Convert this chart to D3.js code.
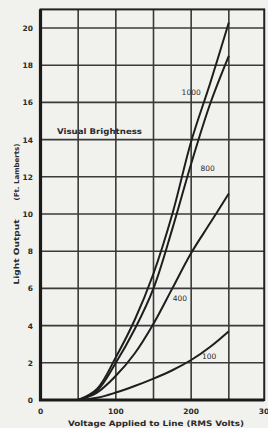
<html>
<head>
<script src="https://d3js.org/d3.v7.min.js"></script>
<style>
    body { margin: 0; background: #f1f1ee; }
    svg { display: block; }
    text { font-family: "DejaVu Sans", sans-serif; fill: #2b2b2b; }
</style>
</head>
<body>
<svg id="chart" width="268" height="428"></svg>
<script>
// voltage (RMS volts) sample points
const volts = [50, 75, 100, 125, 150, 175, 200, 225, 250];
// light output (ft. lamberts) per lamp series
const s1000 = [0, 0.6, 2.3, 4.3, 6.8, 10.0, 13.9, 17.0, 20.3];
const s800  = [0, 0.5, 2.0, 3.8, 6.0, 9.2, 12.7, 15.9, 18.5];
const s400  = [0, 0.4, 1.3, 2.5, 4.1, 6.0, 7.9, 9.5, 11.1];
const s100  = [0, 0.12, 0.4, 0.75, 1.15, 1.6, 2.15, 2.85, 3.7];
const seriesNames = ["1000", "800", "400", "100"];
const yTicks = [0, 2, 4, 6, 8, 10, 12, 14, 16, 18, 20];
const xTicks = [0, 100, 200, 300];
const xGrid = [50, 100, 150, 200, 250];

const series = [s1000, s800, s400, s100];

const svg = d3.select("#chart");
const x = d3.scaleLinear().domain([0, 300]).range([40.5, 266.5]);
const y = d3.scaleLinear().domain([0, 20]).range([400, 28]);
const xEnd = 297, yEnd = 21;

// grid
const g = svg.append("g");
g.selectAll("line.h").data(yTicks.filter(d => d > 0)).join("line")
    .attr("x1", x(0)).attr("x2", x(xEnd))
    .attr("y1", d => y(d)).attr("y2", d => y(d))
    .attr("stroke", "#3a3a3a").attr("stroke-width", 1.6);
g.selectAll("line.v").data(xGrid).join("line")
    .attr("y1", y(0)).attr("y2", y(yEnd))
    .attr("x1", d => x(d)).attr("x2", d => x(d))
    .attr("stroke", "#3a3a3a").attr("stroke-width", 1.6);

// frame
g.append("rect")
    .attr("x", x(0)).attr("y", y(yEnd))
    .attr("width", x(xEnd) - x(0)).attr("height", y(0) - y(yEnd))
    .attr("fill", "none").attr("stroke", "#222").attr("stroke-width", 2);
g.append("path")
    .attr("d", `M${x(0)},${y(yEnd)}V${y(0)}H${x(xEnd)}`)
    .attr("fill", "none").attr("stroke", "#1a1a1a").attr("stroke-width", 3.2);

// tick labels
svg.append("g").selectAll("text").data(yTicks).join("text")
    .attr("x", 33).attr("y", d => y(d) + 3)
    .attr("text-anchor", "end")
    .attr("font-size", 7.5).attr("font-weight", "bold")
    .text(d => d);
svg.append("g").selectAll("text").data(xTicks).join("text")
    .attr("x", d => x(d)).attr("y", 414)
    .attr("text-anchor", "middle")
    .attr("font-size", 7.5).attr("font-weight", "bold")
    .text(d => d);

// axis titles
svg.append("text")
    .attr("x", 156).attr("y", 426)
    .attr("text-anchor", "middle")
    .attr("font-size", 7.6).attr("font-weight", "bold")
    .attr("textLength", 176).attr("lengthAdjust", "spacingAndGlyphs")
    .text("Voltage Applied to Line (RMS Volts)");
svg.append("text")
    .attr("transform", "translate(19,252) rotate(-90)")
    .attr("text-anchor", "middle")
    .attr("font-size", 7.3).attr("font-weight", "bold")
    .attr("textLength", 65).attr("lengthAdjust", "spacingAndGlyphs")
    .text("Light Output");
svg.append("text")
    .attr("transform", "translate(19,172) rotate(-90)")
    .attr("text-anchor", "middle")
    .attr("font-size", 6.8).attr("font-weight", "bold")
    .attr("textLength", 57).attr("lengthAdjust", "spacingAndGlyphs")
    .text("(Ft. Lamberts)");

svg.append("text")
    .attr("x", 57).attr("y", 134)
    .attr("font-size", 7.8).attr("font-weight", "bold")
    .attr("textLength", 85).attr("lengthAdjust", "spacingAndGlyphs")
    .text("Visual Brightness");

// curves
const line = d3.line()
    .x((d, i) => x(volts[i]))
    .y(d => y(d))
    .curve(d3.curveCatmullRom.alpha(0.5));
svg.append("g").selectAll("path").data(series).join("path")
    .attr("d", line)
    .attr("fill", "none").attr("stroke", "#1e1e1e").attr("stroke-width", 2);

// curve labels (voltage, value position)
const labelV = [200, 222, 185, 224];
const labelY = [16.4, 12.3, 5.3, 2.2];
svg.append("g").selectAll("text").data(seriesNames).join("text")
    .attr("x", (d, i) => x(labelV[i]))
    .attr("y", (d, i) => y(labelY[i]))
    .attr("text-anchor", "middle")
    .attr("font-size", 7.5)
    .text(d => d);
</script>
</body>
</html>
